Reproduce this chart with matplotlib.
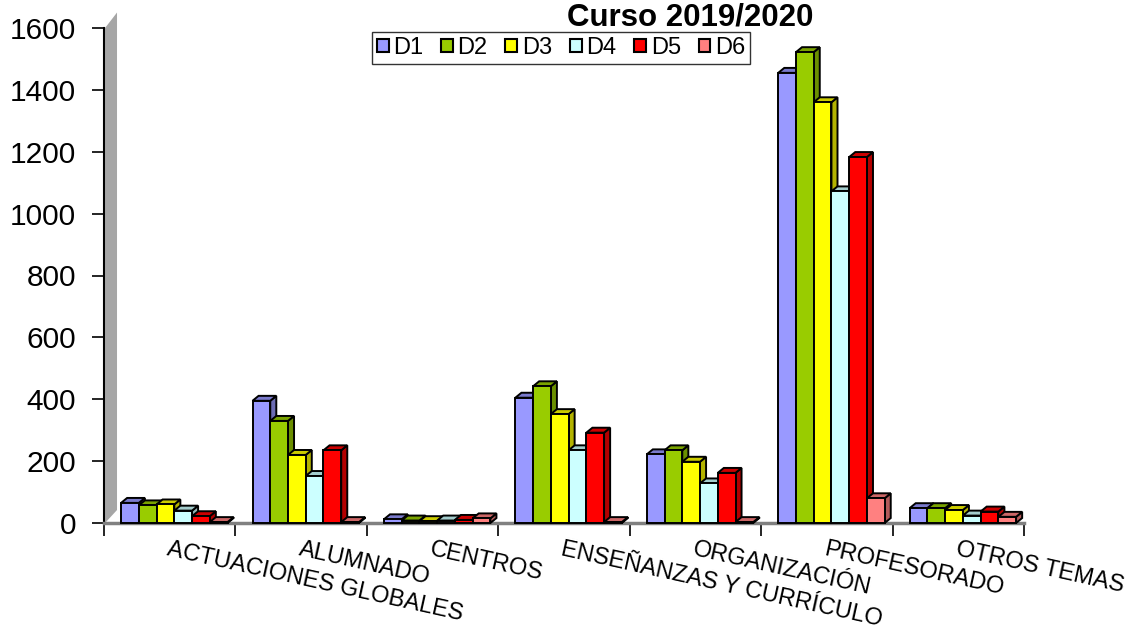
import numpy as np
import matplotlib.pyplot as plt
from matplotlib.patches import Polygon, Patch
import matplotlib.colors as mcolors

plt.rcParams['font.family'] = ['Liberation Sans', 'DejaVu Sans']

# Categories and series
categories = ["ACTUACIONES GLOBALES", "ALUMNADO", "CENTROS",
              "ENSEÑANZAS Y CURRÍCULO", "ORGANIZACIÓN", "PROFESORADO",
              "OTROS TEMAS"]
series = ["D1", "D2", "D3", "D4", "D5", "D6"]
D1 = [65, 395, 12, 405, 222, 1455, 48]
D2 = [57, 330, 8, 442, 235, 1522, 48]
D3 = [60, 220, 6, 352, 198, 1360, 42]
D4 = [40, 152, 8, 235, 128, 1072, 24]
D5 = [22, 235, 10, 292, 162, 1183, 37]
D6 = [3, 3, 15, 3, 3, 80, 20]
values = [D1, D2, D3, D4, D5, D6]
colors = ["#9999FF", "#99CC00", "#FFFF00", "#CCFFFF", "#FF0000", "#FF8080"]

fig = plt.figure(figsize=(11.38, 6.34), dpi=100)
ax = fig.add_axes([104 / 1138, 1 - 523 / 634, 920 / 1138, 495 / 634])
ax.set_xlim(0, len(categories))
ax.set_ylim(0, 1600)

# fake 3D depth (in data units)
ddx, ddy = 0.046, 16
bw, off = 0.135, 0.13


def shade(c, f):
    r, g, b = mcolors.to_rgb(c)
    return (r * f, g * f, b * f)


# back wall
wall = Polygon([(0.008, 0), (0.008, 1600), (0.099, 1650), (0.099, 42)],
               closed=True, facecolor="#A6A6A6", edgecolor="none",
               clip_on=False, zorder=1)
ax.add_patch(wall)

z = 3
for i in range(len(categories)):
    for j, s in enumerate(series):
        v = values[j][i]
        x0 = i + off + j * bw
        x1 = x0 + bw
        side = Polygon([(x1, 0), (x1 + ddx, ddy), (x1 + ddx, v + ddy), (x1, v)],
                       closed=True, facecolor=shade(colors[j], 0.7),
                       edgecolor="black", lw=1.4, zorder=z, clip_on=False)
        top = Polygon([(x0, v), (x0 + ddx, v + ddy), (x1 + ddx, v + ddy), (x1, v)],
                      closed=True, facecolor=shade(colors[j], 0.8),
                      edgecolor="black", lw=1.4, zorder=z, clip_on=False)
        ax.add_patch(side)
        ax.add_patch(top)
        ax.bar(x0, v, width=bw, align="edge", color=colors[j],
               edgecolor="black", lw=1.4, zorder=z + 0.5, clip_on=False)
        z += 1

for sp in ["top", "right"]:
    ax.spines[sp].set_visible(False)
ax.spines["bottom"].set_color("#808080")
ax.spines["bottom"].set_linewidth(2.5)
ax.spines["left"].set_color("black")
ax.spines["left"].set_linewidth(1.5)
ax.spines["left"].set_zorder(2)

ax.set_yticks(np.arange(0, 1601, 200))
ax.tick_params(axis="y", labelsize=21.5, length=9, width=1.2, pad=11)
ax.set_xticks(np.arange(0, len(categories) + 1))
ax.set_xticklabels([])
ax.tick_params(axis="x", length=9, width=1.2, color="black")

for i, c in enumerate(categories):
    ax.text(i + 0.5, -0.032, c, transform=ax.get_xaxis_transform(),
            rotation=-12.5, rotation_mode="anchor", ha="left", va="top",
            fontsize=17)

handles = [Patch(facecolor=colors[j], edgecolor="black", lw=1.5, label=s)
           for j, s in enumerate(series)]
leg = fig.legend(handles=handles, loc="center", bbox_to_anchor=(561 / 1138, 1 - 48 / 634),
                 ncol=6, fontsize=17, frameon=True, fancybox=False,
                 handlelength=0.5, handleheight=0.5, handletextpad=0.2,
                 columnspacing=0.75, borderpad=0.2, borderaxespad=0)
leg.get_frame().set_edgecolor("black")
leg.get_frame().set_linewidth(1.0)

fig.text(690 / 1138, 1 - 18 / 634, "Curso 2019/2020", ha="center", va="center",
         fontsize=22.5, fontweight="bold")

fig.savefig("out.png", dpi=100)
